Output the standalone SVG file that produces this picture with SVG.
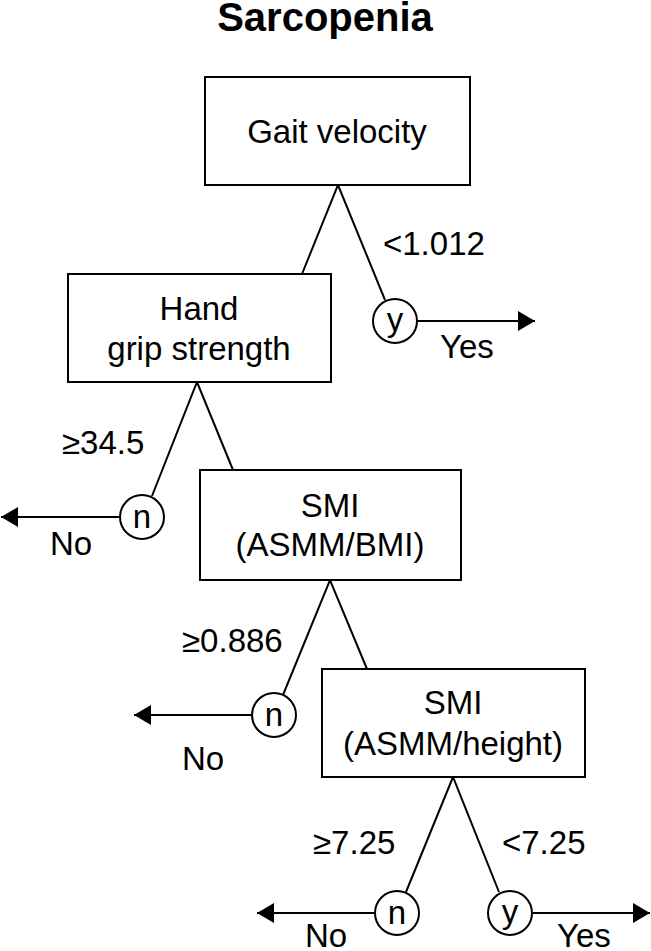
<svg xmlns="http://www.w3.org/2000/svg" width="651" height="951" viewBox="0 0 651 951">
<style>
.t{font-family:"Liberation Sans",Arial,sans-serif;font-size:33px;fill:#000}
.m{text-anchor:middle}
.box{fill:#fff;stroke:#000;stroke-width:2}
.c{fill:#fff;stroke:#000;stroke-width:2}
.ln{fill:none;stroke:#000;stroke-width:2}
</style>
<defs>
<marker id="ah" markerWidth="17" markerHeight="20" refX="17" refY="10" orient="auto" markerUnits="userSpaceOnUse">
<path d="M0,0 L17,10 L0,20 Z" fill="#000"/>
</marker>
</defs>
<rect width="651" height="951" fill="#fff"/>
<text x="325" y="31" class="t m" style="font-size:40px;font-weight:bold">Sarcopenia</text>
<g id="connectors">
<path class="ln" d="M302,274 L338,185 L385,300"/>
<path class="ln" d="M152,496 L197,382 L233,470"/>
<path class="ln" d="M283,695 L330,580 L367,669"/>
<path class="ln" d="M406,892 L453,777 L499,892"/>
<line class="ln" x1="416" y1="321" x2="535" y2="321" marker-end="url(#ah)"/>
<line class="ln" x1="120" y1="517" x2="1" y2="517" marker-end="url(#ah)"/>
<line class="ln" x1="252" y1="715" x2="134" y2="715" marker-end="url(#ah)"/>
<line class="ln" x1="375" y1="913" x2="257" y2="913" marker-end="url(#ah)"/>
<line class="ln" x1="532" y1="913" x2="650" y2="913" marker-end="url(#ah)"/>
<text x="383" y="255" class="t">&lt;1.012</text>
<text x="62" y="454" class="t">≥34.5</text>
<text x="182" y="652" class="t">≥0.886</text>
<text x="313" y="854" class="t">≥7.25</text>
<text x="502" y="854" class="t">&lt;7.25</text>
<text x="440" y="358" class="t">Yes</text>
<text x="50" y="555" class="t">No</text>
<text x="182" y="770" class="t">No</text>
<text x="305" y="947" class="t">No</text>
<text x="557" y="947" class="t">Yes</text>
</g>
<g id="gait">
<rect class="box" x="205" y="77" width="265" height="108"/>
<text x="337" y="143" class="t m">Gait velocity</text>
</g>
<g id="hand">
<rect class="box" x="68" y="274" width="263" height="108"/>
<text x="199" y="320" class="t m">Hand</text>
<text x="199" y="360" class="t m">grip strength</text>
</g>
<g id="smi-bmi">
<rect class="box" x="200" y="470" width="261" height="110"/>
<text x="330" y="517" class="t m">SMI</text>
<text x="330" y="556" class="t m">(ASMM/BMI)</text>
</g>
<g id="smi-height">
<rect class="box" x="322" y="669" width="263" height="108"/>
<text x="453" y="714" class="t m">SMI</text>
<text x="453" y="755" class="t m">(ASMM/height)</text>
</g>
<g id="y1"><circle class="c" cx="395" cy="321" r="22"/><text x="395" y="331" class="t m">y</text></g>
<g id="n1"><circle class="c" cx="142" cy="517" r="22"/><text x="142" y="528" class="t m">n</text></g>
<g id="n2"><circle class="c" cx="274" cy="715" r="22"/><text x="274" y="726" class="t m">n</text></g>
<g id="n3"><circle class="c" cx="397" cy="913" r="22"/><text x="397" y="924" class="t m">n</text></g>
<g id="y2"><circle class="c" cx="510" cy="913" r="22"/><text x="510" y="923" class="t m">y</text></g>
</svg>
